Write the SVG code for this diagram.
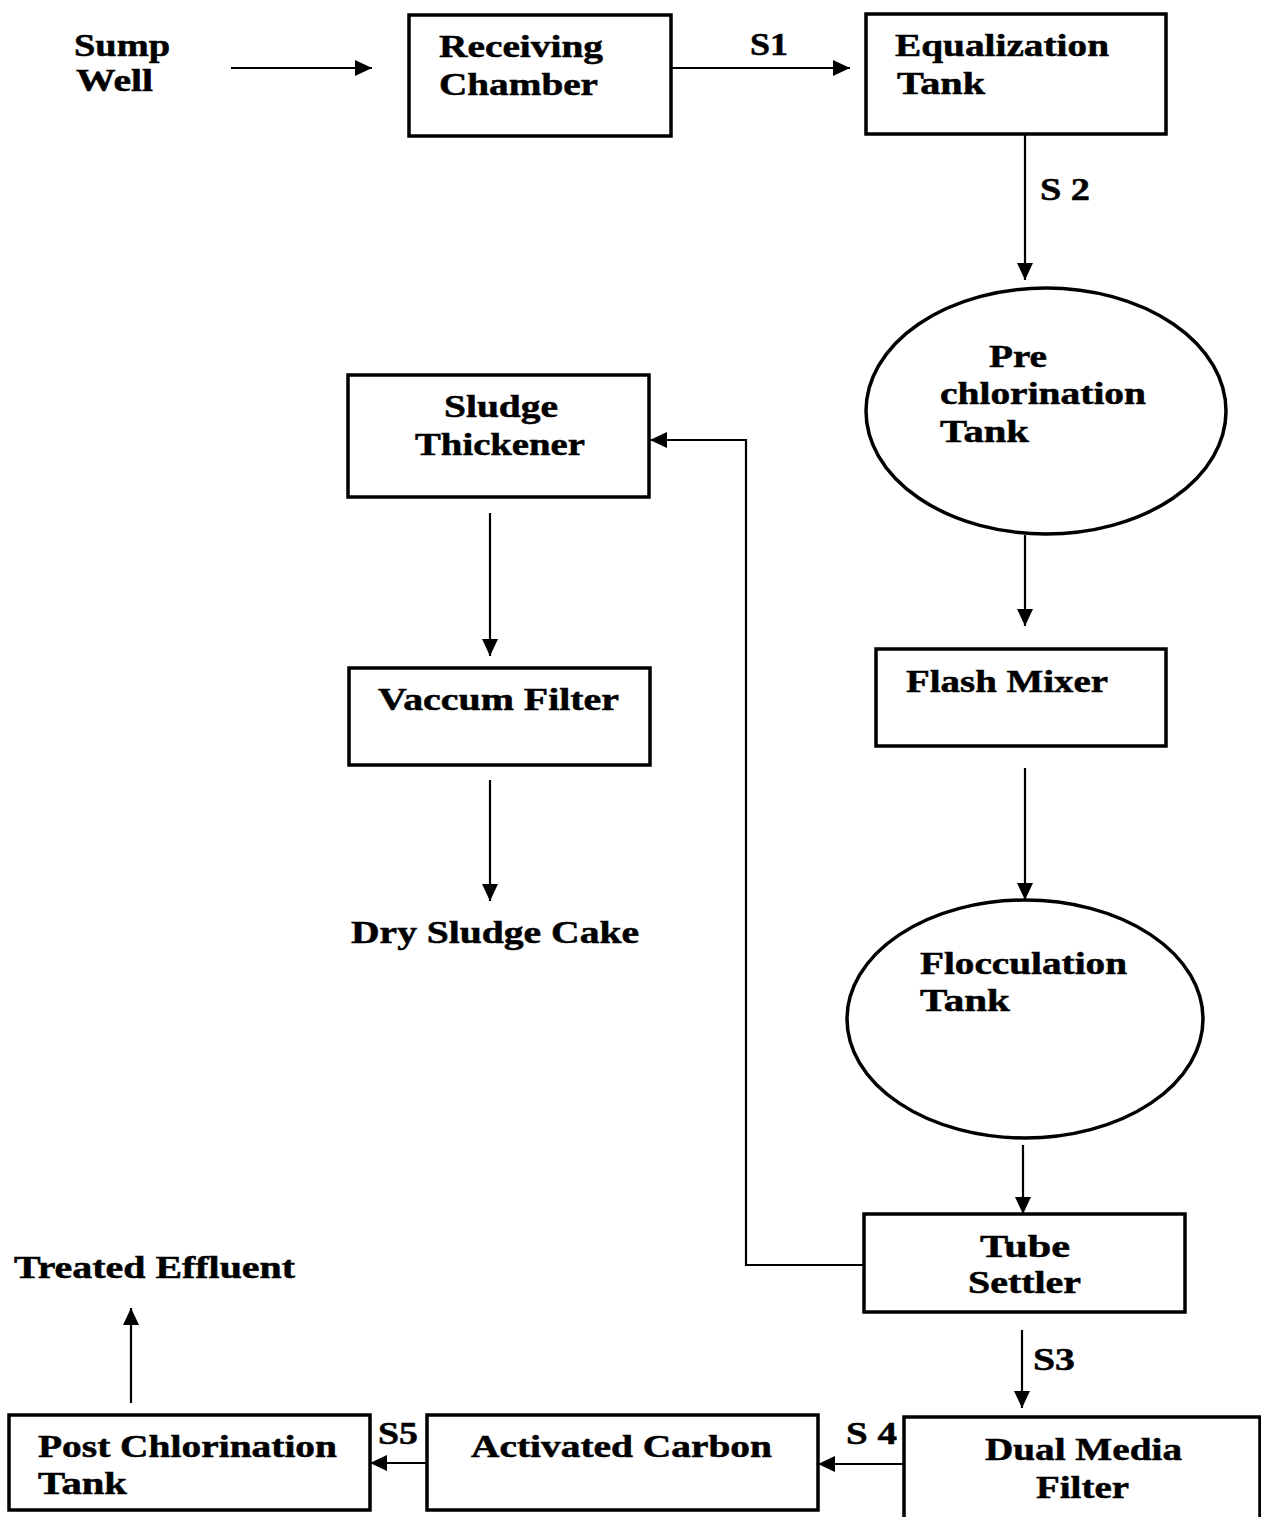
<svg xmlns="http://www.w3.org/2000/svg" width="1261" height="1517" viewBox="0 0 1261 1517">
<style>
text{font-family:"Liberation Serif","Times New Roman",serif;font-weight:bold;font-size:31px;fill:#000;stroke:#000;stroke-width:0.5}
.box{fill:#fff;stroke:#000;stroke-width:3.5}
.conn{fill:none;stroke:#000;stroke-width:2.2}
</style>
<defs>
<marker id="ah" markerUnits="userSpaceOnUse" markerWidth="18" markerHeight="16" refX="17" refY="8" orient="auto">
<path d="M0,0 L17,8 L0,16 z" fill="#000"/>
</marker>
</defs>
<rect width="1261" height="1517" fill="#fff"/>
<g id="connectors">
<line class="conn" x1="231" y1="68" x2="372" y2="68" marker-end="url(#ah)"/>
<line class="conn" x1="671" y1="68" x2="850" y2="68" marker-end="url(#ah)"/>
<line class="conn" x1="1025" y1="134" x2="1025" y2="280" marker-end="url(#ah)"/>
<line class="conn" x1="1025" y1="535" x2="1025" y2="626" marker-end="url(#ah)"/>
<line class="conn" x1="1025" y1="768" x2="1025" y2="900" marker-end="url(#ah)"/>
<line class="conn" x1="1023" y1="1145" x2="1023" y2="1214" marker-end="url(#ah)"/>
<polyline class="conn" points="864,1265 746,1265 746,440 650,440" marker-end="url(#ah)"/>
<line class="conn" x1="490" y1="513" x2="490" y2="656" marker-end="url(#ah)"/>
<line class="conn" x1="490" y1="780" x2="490" y2="901" marker-end="url(#ah)"/>
<line class="conn" x1="1022" y1="1330" x2="1022" y2="1408" marker-end="url(#ah)"/>
<line class="conn" x1="915" y1="1464" x2="818" y2="1464" marker-end="url(#ah)"/>
<line class="conn" x1="427" y1="1463" x2="370" y2="1463" marker-end="url(#ah)"/>
<line class="conn" x1="131" y1="1403" x2="131" y2="1308" marker-end="url(#ah)"/>
<text x="750" y="55" textLength="38" lengthAdjust="spacingAndGlyphs">S1</text>
<text x="1040" y="200" textLength="50" lengthAdjust="spacingAndGlyphs">S 2</text>
<text x="1033" y="1370" textLength="42" lengthAdjust="spacingAndGlyphs">S3</text>
<text x="846" y="1444" textLength="51" lengthAdjust="spacingAndGlyphs">S 4</text>
<text x="378" y="1444" textLength="40" lengthAdjust="spacingAndGlyphs">S5</text>
</g>
<g id="sump-well">
<text x="74" y="56" textLength="96" lengthAdjust="spacingAndGlyphs">Sump</text>
<text x="76" y="91" textLength="77" lengthAdjust="spacingAndGlyphs">Well</text>
</g>
<g id="receiving-chamber">
<rect class="box" x="409" y="15" width="262" height="121"/>
<text x="439" y="57" textLength="164" lengthAdjust="spacingAndGlyphs">Receiving</text>
<text x="439" y="95" textLength="159" lengthAdjust="spacingAndGlyphs">Chamber</text>
</g>
<g id="equalization-tank">
<rect class="box" x="866" y="14" width="300" height="120"/>
<text x="895" y="56" textLength="214" lengthAdjust="spacingAndGlyphs">Equalization</text>
<text x="897" y="94" textLength="88" lengthAdjust="spacingAndGlyphs">Tank</text>
</g>
<g id="pre-chlorination-tank">
<ellipse class="box" cx="1046" cy="411" rx="180" ry="123"/>
<text x="989" y="367" textLength="58" lengthAdjust="spacingAndGlyphs">Pre</text>
<text x="940" y="404" textLength="206" lengthAdjust="spacingAndGlyphs">chlorination</text>
<text x="940" y="442" textLength="89" lengthAdjust="spacingAndGlyphs">Tank</text>
</g>
<g id="flash-mixer">
<rect class="box" x="876" y="649" width="290" height="97"/>
<text x="906" y="692" textLength="202" lengthAdjust="spacingAndGlyphs">Flash Mixer</text>
</g>
<g id="flocculation-tank">
<ellipse class="box" cx="1025" cy="1019" rx="178" ry="119"/>
<text x="920" y="974" textLength="207" lengthAdjust="spacingAndGlyphs">Flocculation</text>
<text x="920" y="1011" textLength="90" lengthAdjust="spacingAndGlyphs">Tank</text>
</g>
<g id="tube-settler">
<rect class="box" x="864" y="1214" width="321" height="98"/>
<text x="980" y="1257" textLength="90" lengthAdjust="spacingAndGlyphs">Tube</text>
<text x="968" y="1293" textLength="113" lengthAdjust="spacingAndGlyphs">Settler</text>
</g>
<g id="sludge-thickener">
<rect class="box" x="348" y="375" width="301" height="122"/>
<text x="444" y="417" textLength="114" lengthAdjust="spacingAndGlyphs">Sludge</text>
<text x="415" y="455" textLength="170" lengthAdjust="spacingAndGlyphs">Thickener</text>
</g>
<g id="vaccum-filter">
<rect class="box" x="349" y="668" width="301" height="97"/>
<text x="378" y="710" textLength="241" lengthAdjust="spacingAndGlyphs">Vaccum Filter</text>
</g>
<g id="dry-sludge-cake">
<text x="351" y="943" textLength="288" lengthAdjust="spacingAndGlyphs">Dry Sludge Cake</text>
</g>
<g id="dual-media-filter">
<rect class="box" x="904" y="1417" width="356" height="102"/>
<text x="985" y="1460" textLength="197" lengthAdjust="spacingAndGlyphs">Dual Media</text>
<text x="1036" y="1498" textLength="93" lengthAdjust="spacingAndGlyphs">Filter</text>
</g>
<g id="activated-carbon">
<rect class="box" x="427" y="1415" width="391" height="95"/>
<text x="471" y="1457" textLength="301" lengthAdjust="spacingAndGlyphs">Activated Carbon</text>
</g>
<g id="post-chlorination-tank">
<rect class="box" x="9" y="1415" width="361" height="95"/>
<text x="38" y="1457" textLength="299" lengthAdjust="spacingAndGlyphs">Post Chlorination</text>
<text x="38" y="1494" textLength="89" lengthAdjust="spacingAndGlyphs">Tank</text>
</g>
<g id="treated-effluent">
<text x="14" y="1278" textLength="281" lengthAdjust="spacingAndGlyphs">Treated Effluent</text>
</g>
</svg>
